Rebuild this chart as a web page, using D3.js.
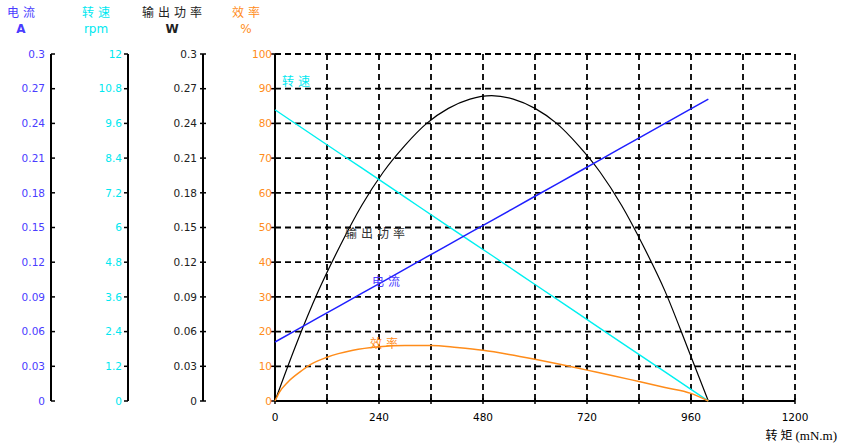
<!DOCTYPE html>
<html>
<head>
<meta charset="utf-8">
<script src="https://cdn.jsdelivr.net/npm/d3@7"></script>
<style>
  html, body { margin: 0; padding: 0; background: #fff; }
  svg { display: block; }
  .num { font-family: "DejaVu Sans", Verdana, sans-serif; font-size: 10.5px; }
  .cjk { font-family: "Noto Sans CJK SC", sans-serif; font-size: 12px; letter-spacing: 4px; }
</style>
</head>
<body>
<svg id="chart" width="844" height="448"></svg>
<script>
// ---------------- data ----------------
const torqueLin = [0, 100, 200, 300, 400, 500, 600, 700, 800, 900, 1000];       // mN.m
const currentA  = [0.051, 0.072, 0.093, 0.114, 0.135, 0.156, 0.177, 0.198, 0.219, 0.240, 0.261];
const speedRpm  = [10.07, 9.06, 8.06, 7.05, 6.04, 5.04, 4.03, 3.02, 2.01, 1.01, 0];

const torquePow = [0, 50, 100, 150, 200, 250, 300, 350, 400, 450, 500, 550, 600, 650, 700, 750, 800, 850, 900, 950, 1000];
const powerW    = [0, 0.050, 0.095, 0.134, 0.169, 0.198, 0.221, 0.240, 0.253, 0.261, 0.264, 0.261, 0.253, 0.240, 0.221, 0.198, 0.169, 0.134, 0.095, 0.048, 0];

const torqueEff = [0, 10, 30, 60, 75, 120, 180, 240, 300, 360, 420, 480, 540, 600, 660, 720, 780, 840, 900, 960, 1000];
const effPct    = [0, 2.5, 5.5, 8.6, 10, 12.6, 14.6, 15.6, 16.0, 16.0, 15.4, 14.6, 13.4, 12.0, 10.5, 8.9, 7.3, 5.6, 3.9, 2.2, 0];

const xTicks       = [0, 240, 480, 720, 960, 1200];
const xGrid        = [120, 240, 360, 480, 600, 720, 840, 960, 1080, 1200];
const currentTicks = ["0","0.03","0.06","0.09","0.12","0.15","0.18","0.21","0.24","0.27","0.3"];
const speedTicks   = ["0","1.2","2.4","3.6","4.8","6","7.2","8.4","9.6","10.8","12"];
const powerTicks   = ["0","0.03","0.06","0.09","0.12","0.15","0.18","0.21","0.24","0.27","0.3"];
const effTicks     = ["0","10","20","30","40","50","60","70","80","90","100"];

const C_BLUE = "#1f1fff", C_CYAN = "#00f0f0", C_BLACK = "#000", C_ORANGE = "#ff8c1a";

// ---------------- scales ----------------
const svg = d3.select("#chart");
const X0 = 275, X1 = 795, Y0 = 401, Y1 = 54;
const x  = d3.scaleLinear().domain([0, 1200]).range([X0, X1]);
const yE = d3.scaleLinear().domain([0, 100]).range([Y0, Y1]);
const yI = d3.scaleLinear().domain([0, 0.3]).range([Y0, Y1]);
const yS = d3.scaleLinear().domain([0, 12]).range([Y0, Y1]);
const yP = d3.scaleLinear().domain([0, 0.3]).range([Y0, Y1]);

// ---------------- grid ----------------
const grid = svg.append("g").attr("stroke", "#000").attr("stroke-width", 1.8).attr("stroke-dasharray", "6,4");
d3.range(10, 101, 10).forEach(v => {
  grid.append("line").attr("x1", X0).attr("x2", X1).attr("y1", yE(v)).attr("y2", yE(v));
});
xGrid.forEach(v => {
  grid.append("line").attr("x1", x(v)).attr("x2", x(v)).attr("y1", Y1).attr("y2", Y0);
});

// ---------------- plot axes ----------------
const ax = svg.append("g").attr("stroke", "#000").attr("stroke-width", 2);
ax.append("line").attr("x1", X0).attr("x2", X0).attr("y1", Y1).attr("y2", Y0);
ax.append("line").attr("x1", X0).attr("x2", X1).attr("y1", Y0).attr("y2", Y0);
d3.range(0, 1201, 120).forEach(v => {
  ax.append("line").attr("x1", x(v)).attr("x2", x(v)).attr("y1", Y0 - 3).attr("y2", Y0 + 3).attr("stroke-width", 1.5);
});
xTicks.forEach(v => {
  svg.append("text").attr("class", "num").attr("x", x(v)).attr("y", Y0 + 20)
    .attr("text-anchor", "middle").attr("fill", "#000").text(v);
});
const xt = svg.append("text").attr("x", 837).attr("y", 440).attr("text-anchor", "end").attr("fill", "#000");
xt.append("tspan").attr("class", "cjk").style("letter-spacing", "3px").text("转矩");
xt.append("tspan").style("font-family", "'Liberation Serif', serif").style("font-size", "13px").text("(mN.m)");

// ---------------- left axes ----------------
function leftAxis(axX, labels, color, tickDir, labelRight) {
  const g = svg.append("g");
  g.append("line").attr("x1", axX).attr("x2", axX).attr("y1", Y1).attr("y2", Y0)
    .attr("stroke", "#000").attr("stroke-width", 2);
  labels.forEach((lab, i) => {
    const yy = yE(i * 10);
    let xa = axX, xb = axX;
    if (tickDir === "right") { xb = axX + 4; }
    else if (tickDir === "left") { xa = axX - 4; }
    else { xa = axX - 3; xb = axX + 3; }
    g.append("line").attr("x1", xa).attr("x2", xb).attr("y1", yy).attr("y2", yy)
      .attr("stroke", "#000").attr("stroke-width", 1.5);
    g.append("text").attr("class", "num").attr("x", labelRight).attr("y", yy)
      .attr("dy", "0.36em").attr("text-anchor", "end").attr("fill", color).text(lab);
  });
}
leftAxis(51, currentTicks, "#4a3cff", "right", 45);
leftAxis(128, speedTicks, "#00e8f0", "left", 122);
leftAxis(203, powerTicks, "#222", "both", 197);
// efficiency axis labels (plot left axis)
effTicks.forEach((lab, i) => {
  const yy = yE(i * 10);
  svg.append("line").attr("x1", X0 - 4).attr("x2", X0).attr("y1", yy).attr("y2", yy)
    .attr("stroke", "#000").attr("stroke-width", 1.5);
  svg.append("text").attr("class", "num").attr("x", X0 - 3).attr("y", yy)
    .attr("dy", "0.36em").attr("text-anchor", "end").attr("fill", C_ORANGE).text(lab);
});

// ---------------- headers ----------------
const headers = [
  { t: "电流", u: "A", cx: 21, c: "#4a3cff" },
  { t: "转速", u: "rpm", cx: 96, c: "#00e8f0" },
  { t: "输出功率", u: "W", cx: 172, c: "#222" },
  { t: "效率", u: "%", cx: 246, c: C_ORANGE }
];
headers.forEach(h => {
  svg.append("text").attr("class", "cjk").attr("x", h.cx + 2).attr("y", 17)
    .attr("text-anchor", "middle").attr("fill", h.c).text(h.t);
  svg.append("text").attr("class", "num").attr("x", h.cx).attr("y", 33)
    .attr("text-anchor", "middle").attr("fill", h.c).style("font-size", "12px")
    .style("font-weight", h.u === "A" || h.u === "W" ? "bold" : "normal")
    .text(h.u);
});

// ---------------- series ----------------
const smooth = (xs, ys, ysc) => d3.line().curve(d3.curveMonotoneX).x((d, i) => x(xs[i])).y((d, i) => ysc(ys[i]))(ys);
svg.append("path").attr("d", smooth(torquePow, powerW, yP)).attr("fill", "none").attr("stroke", C_BLACK).attr("stroke-width", 1.2);
svg.append("path").attr("d", smooth(torqueLin, speedRpm, yS)).attr("fill", "none").attr("stroke", C_CYAN).attr("stroke-width", 1.4);
svg.append("path").attr("d", smooth(torqueLin, currentA, yI)).attr("fill", "none").attr("stroke", C_BLUE).attr("stroke-width", 1.5);
svg.append("path").attr("d", smooth(torqueEff, effPct, yE)).attr("fill", "none").attr("stroke", C_ORANGE).attr("stroke-width", 1.5);

// ---------------- in-plot labels ----------------
const inl = [
  { t: "转速", x: 282, y: 86, c: "#00e8f0" },
  { t: "输出功率", x: 345, y: 238, c: "#333" },
  { t: "电流", x: 372, y: 286, c: "#4a3cff" },
  { t: "效率", x: 370, y: 348, c: C_ORANGE }
];
inl.forEach(l => {
  svg.append("text").attr("class", "cjk").attr("x", l.x).attr("y", l.y).attr("fill", l.c).text(l.t);
});
</script>
</body>
</html>
